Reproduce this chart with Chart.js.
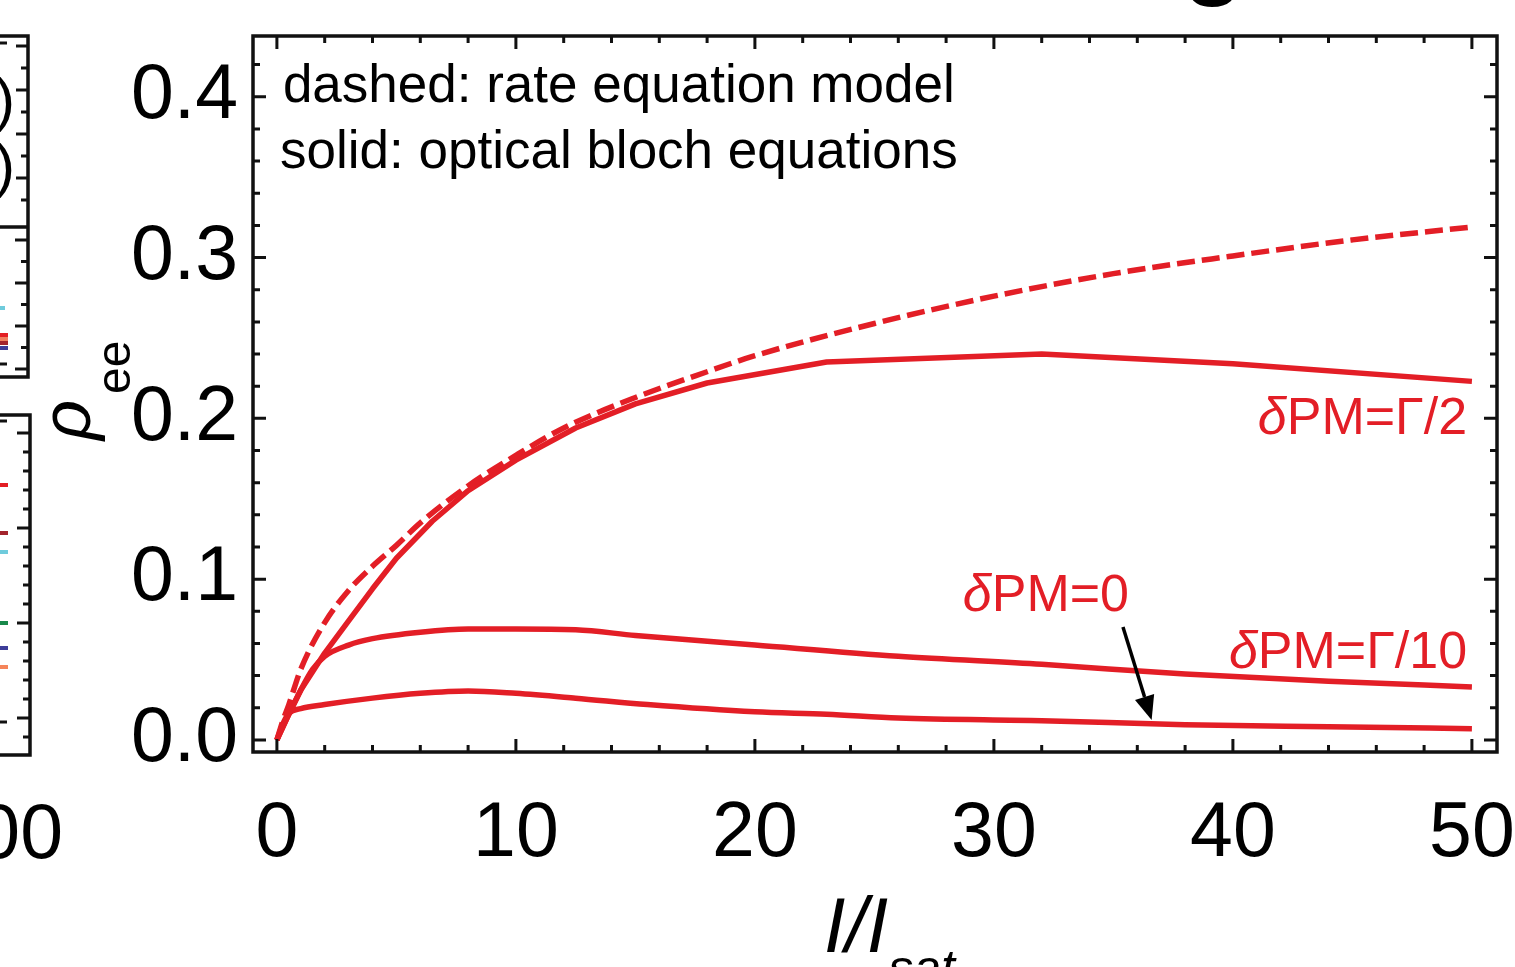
<!DOCTYPE html>
<html><head><meta charset="utf-8">
<script src="https://cdn.jsdelivr.net/npm/chart.js@4.4.1/dist/chart.umd.min.js"></script>
<style>
html,body{margin:0;padding:0;background:#fff;}
#wrap{position:relative;width:1515px;height:967px;overflow:hidden;background:#fff;}
#c{position:absolute;left:0;top:0;}
#side{position:absolute;left:0;top:0;}
.frag{position:absolute;font-family:"Liberation Sans",Arial,sans-serif;color:#000;white-space:nowrap;}
</style></head><body>
<div id="wrap">
<svg id="side" width="1515" height="967"></svg>
<canvas id="c" width="1515" height="967"></canvas>
<div class="frag" style="right:1452px;top:793px;font-size:77px;line-height:77px;">100</div>
<div class="frag" style="right:1500px;top:70px;font-size:60px;line-height:60px;">)</div>
<div class="frag" style="right:1500px;top:136px;font-size:60px;line-height:60px;">)</div>
<div class="frag" style="left:1183px;top:-99px;font-size:100px;line-height:100px;font-weight:bold;">g</div>
</div>
<script>
// ---------- data ----------
const rateX = [0, 0.25, 0.5, 1, 2, 3, 4, 5, 6, 8, 10, 12, 15, 18, 20, 25, 30, 35, 40, 45, 50];
const rateY = [0, 0.012, 0.022, 0.044, 0.073, 0.093, 0.108, 0.121, 0.135, 0.158, 0.177, 0.194, 0.213, 0.229, 0.239, 0.259, 0.276, 0.290, 0.301, 0.311, 0.319];

const halfX = [0, 0.5, 1, 2, 3, 4, 5, 6.5, 8, 10, 12.5, 15, 18, 23, 32, 40, 50];
const halfY = [0, 0.016, 0.031, 0.054, 0.074, 0.094, 0.113, 0.136, 0.155, 0.174, 0.194, 0.209, 0.222, 0.235, 0.240, 0.234, 0.223];

const tenthX = [0, 0.5, 1, 1.5, 2, 3, 4, 6, 8, 10, 12.5, 15, 20, 26, 32, 38, 44, 50];
const tenthY = [0, 0.016, 0.031, 0.044, 0.052, 0.059, 0.063, 0.067, 0.069, 0.069, 0.0685, 0.065, 0.059, 0.052, 0.047, 0.041, 0.0365, 0.033];

const zeroX = [0, 0.25, 0.5, 1, 2, 4, 6, 8, 10, 12.5, 15.5, 20, 23, 26, 32, 38, 44, 50];
const zeroY = [0, 0.010, 0.0165, 0.0195, 0.022, 0.026, 0.029, 0.0305, 0.029, 0.026, 0.022, 0.0175, 0.016, 0.0137, 0.012, 0.0095, 0.0082, 0.007];

const xTickValues = [0, 10, 20, 30, 40, 50];
const yTickValues = [0, 0.1, 0.2, 0.3, 0.4];
const yTickLabels = ["0.0", "0.1", "0.2", "0.3", "0.4"];

const noteLines = ["dashed: rate equation model", "solid: optical bloch equations"];
const curveLabels = ["PM=\u0393/2", "PM=\u0393/10", "PM=0"];

// ---------- styling ----------
const RED = "rgb(227,30,38)";
const FONT = '"Liberation Sans", Arial, sans-serif';
const pts = (xs, ys) => xs.map((v, i) => ({x: v, y: ys[i]}));

// side fragments of the neighbouring panel (decoration)
(function(){
  const svg = document.getElementById('side');
  let s = '';
  const L = (x1,y1,x2,y2,w) => { s += `<line x1="${x1}" y1="${y1}" x2="${x2}" y2="${y2}" stroke="#111" stroke-width="${w}"/>`; };
  s += '<path d="M-5 36 H28 V377 H-5" fill="none" stroke="#111" stroke-width="3.5"/>';
  L(-5,227,28,227,3.5);
  let k = 0;
  for (let yy = 46; yy < 222; yy += 22, k++) L(28, yy, k % 2 ? 21 : 16, yy, 3);
  k = 0;
  for (let yy = 240; yy < 372; yy += 21.5, k++) L(28, yy, k % 2 ? 21 : 15, yy, 3);
  L(0,43,7,43,3); L(0,364,7,364,3);
  s += '<path d="M-5 415 H30 V755 H-5" fill="none" stroke="#111" stroke-width="3.5"/>';
  k = 0;
  for (let yy = 433; yy < 750; yy += 19, k++) L(30, yy, k % 5 === 0 ? 17 : 23, yy, 3);
  L(0,421,7,421,3); L(0,722,7,722,3);
  const dash = (y, c) => { s += `<rect x="0" y="${y}" width="8" height="4" fill="${c}"/>`; };
  dash(483,'#e31e24'); dash(531,'#a3242d'); dash(550,'#6fcbdc'); dash(621,'#19894b'); dash(646,'#3d3d99'); dash(665,'#f5845a');
  s += '<rect x="0" y="306" width="5" height="4" fill="#6fcbdc"/>';
  dash(333,'#e31e24'); dash(337,'#f08060'); dash(341,'#a3242d'); dash(346,'#3d3d99');
  svg.innerHTML = s;
})();

const xMinor = []; for (let i = 0; i <= 25; i++) xMinor.push(i * 2);
const yMinor = []; for (let i = 0; i <= 21; i++) yMinor.push(Math.round(i * 2) / 100);

const framePlugin = {
  id: 'frame',
  afterDatasetsDraw(chart) {
    const {ctx, chartArea: a, scales: {x, y}} = chart;
    ctx.save();
    ctx.strokeStyle = '#111';
    ctx.lineWidth = 3;
    ctx.beginPath();
    xMinor.forEach(v => {
      const px = x.getPixelForValue(v);
      const len = (v % 10 === 0) ? 13 : 7;
      ctx.moveTo(px, a.bottom); ctx.lineTo(px, a.bottom - len);
      ctx.moveTo(px, a.top); ctx.lineTo(px, a.top + len);
    });
    yMinor.forEach((v, i) => {
      const py = y.getPixelForValue(v);
      const len = (i % 5 === 0) ? 13 : 7;
      ctx.moveTo(a.left, py); ctx.lineTo(a.left + len, py);
      ctx.moveTo(a.right, py); ctx.lineTo(a.right - len, py);
    });
    ctx.stroke();
    ctx.lineWidth = 3.5;
    ctx.strokeRect(a.left, a.top, a.right - a.left, a.bottom - a.top);

    // notes
    ctx.fillStyle = '#000';
    ctx.font = '53px ' + FONT;
    ctx.textBaseline = 'alphabetic';
    ctx.textAlign = 'left';
    ctx.fillText(noteLines[0], x.getPixelForValue(0.25), y.getPixelForValue(0.397));
    ctx.fillText(noteLines[1], x.getPixelForValue(0.13), y.getPixelForValue(0.3557));

    // curve labels: italic delta + upright rest
    const lab = (txt, xv, yv, alignRight) => {
      ctx.fillStyle = RED;
      ctx.font = 'italic 52px ' + FONT;
      const wd = ctx.measureText('\u03b4').width;
      ctx.font = '52px ' + FONT;
      const wr = ctx.measureText(txt).width;
      let px = x.getPixelForValue(xv);
      if (alignRight) px -= (wd + wr);
      const py = y.getPixelForValue(yv);
      ctx.font = 'italic 52px ' + FONT;
      ctx.fillText('\u03b4', px, py);
      ctx.font = '52px ' + FONT;
      ctx.fillText(txt, px + wd, py);
    };
    lab(curveLabels[0], 49.8, 0.190, true);
    lab(curveLabels[1], 49.8, 0.0448, true);
    lab(curveLabels[2], 28.7, 0.0802, false);

    // arrow
    const tx = x.getPixelForValue(35.4), ty = y.getPixelForValue(0.0703);
    const hx = x.getPixelForValue(36.6), hy = y.getPixelForValue(0.0124);
    const ang = Math.atan2(hy - ty, hx - tx);
    const hl = 24, hw = 10;
    const bx = hx - hl * Math.cos(ang), by = hy - hl * Math.sin(ang);
    ctx.strokeStyle = '#000'; ctx.fillStyle = '#000'; ctx.lineWidth = 3.5;
    ctx.beginPath(); ctx.moveTo(tx, ty); ctx.lineTo(bx, by); ctx.stroke();
    ctx.beginPath();
    ctx.moveTo(hx, hy);
    ctx.lineTo(bx + hw * Math.sin(ang), by - hw * Math.cos(ang));
    ctx.lineTo(bx - hw * Math.sin(ang), by + hw * Math.cos(ang));
    ctx.closePath(); ctx.fill();

    // axis titles
    ctx.fillStyle = '#000';
    ctx.save();
    ctx.translate(90, 440);
    ctx.rotate(-Math.PI / 2);
    ctx.font = 'italic 70px ' + FONT;
    ctx.fillText('\u03c1', 0, 0);
    const wr = ctx.measureText('\u03c1').width;
    ctx.font = '48px ' + FONT;
    ctx.fillText('ee', wr + 6, 40);
    ctx.restore();

    ctx.font = 'italic 77px ' + FONT;
    ctx.fillText('I/I', 824, 952);
    const wi = ctx.measureText('I/I').width;
    ctx.font = 'italic 50px ' + FONT;
    ctx.fillText('sat', 824 + wi, 985);
    ctx.restore();
  }
};

const lineDs = (data, dashed, smooth) => ({
  data, borderColor: RED, borderWidth: 5.5, pointRadius: 0, fill: false,
  borderDash: dashed ? [18, 7] : [],
  cubicInterpolationMode: smooth ? 'monotone' : 'default', tension: 0,
  borderJoinStyle: 'round', borderCapStyle: 'butt'
});

new Chart(document.getElementById('c'), {
  type: 'line',
  data: {
    datasets: [
      lineDs(pts(rateX, rateY), true, true),
      lineDs(pts(halfX, halfY), false, false),
      lineDs(pts(tenthX, tenthY), false, true),
      lineDs(pts(zeroX, zeroY), false, true)
    ]
  },
  options: {
    responsive: false, animation: false, devicePixelRatio: 1,
    layout: {padding: {left: 0, right: 18, top: 36, bottom: 0}},
    plugins: {legend: {display: false}, tooltip: {enabled: false}},
    scales: {
      x: {
        type: 'linear', min: -1.0, max: 51.05,
        grid: {display: false, drawTicks: false},
        border: {display: false},
        afterBuildTicks: s => { s.ticks = xTickValues.map(v => ({value: v})); },
        afterFit: s => { s.height = 215; s.paddingLeft = 0; s.paddingRight = 0; },
        ticks: {
          autoSkip: false, maxRotation: 0, padding: 37, color: '#000',
          font: {family: FONT, size: 77},
          callback: v => String(v)
        }
      },
      y: {
        type: 'linear', min: -0.0075, max: 0.4378,
        grid: {display: false, drawTicks: false},
        border: {display: false},
        afterBuildTicks: s => { s.ticks = yTickValues.map(v => ({value: v})); },
        afterFit: s => { s.width = 253; s.paddingTop = 0; s.paddingBottom = 0; },
        ticks: {
          autoSkip: false, padding: 15, color: '#000',
          font: {family: FONT, size: 77},
          callback: (v) => { const i = yTickValues.indexOf(v); return i >= 0 ? yTickLabels[i] : ''; }
        }
      }
    }
  },
  plugins: [framePlugin]
});
</script>
</body></html>
